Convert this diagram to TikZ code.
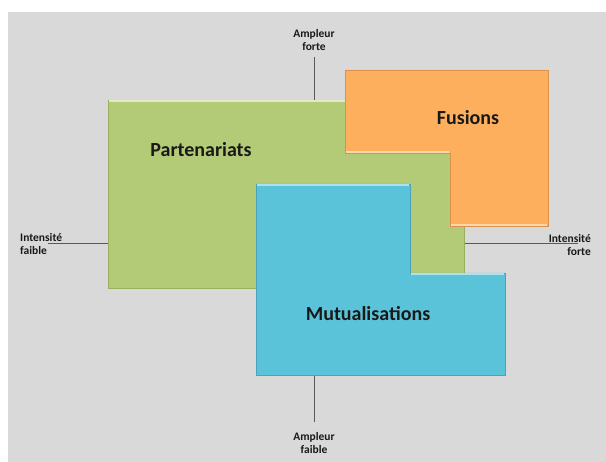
\documentclass[tikz,border=0pt]{standalone}
\usepackage{fontspec}
\setmainfont{Carlito}
\definecolor{bg}{HTML}{D9D9D9}
\definecolor{greenf}{HTML}{B3CB76}
\definecolor{greend}{HTML}{98B05E}
\definecolor{orangef}{HTML}{FDAF5D}
\definecolor{oranged}{HTML}{D99248}
\definecolor{bluef}{HTML}{5BC3D9}
\definecolor{blued}{HTML}{4AA3B8}
\definecolor{axis}{HTML}{595959}
\begin{document}
\begin{tikzpicture}[x=1pt,y=-1pt,
  shapebox/.style={line width=0.8pt, line join=miter},
  axisline/.style={draw=axis, line width=1pt},
  small/.style={font=\bfseries\fontsize{11.5}{13.5}\selectfont, text=black!90, align=center, inner sep=0pt},
  big/.style={font=\bfseries\fontsize{20}{24}\selectfont, text=black!90, inner sep=0pt}]
\useasboundingbox (0,0) rectangle (606,462);
\fill[white] (0,0) rectangle (606,462);
\fill[bg] (8,12) rectangle (606,462);
% axes
\coordinate (vt) at (314,57);
\coordinate (vb) at (314,422);
\coordinate (hl) at (48,244);
\coordinate (hr) at (578,244);
\draw[axisline] (vt) -- (vb);
\draw[axisline] (hl) -- (hr);
% green
\fill[greenf, draw=greend, shapebox] (108,100) rectangle (464,288);
\draw[white!60!greenf, line width=1.2pt] (109,101) -- (463,101);
% orange
\fill[orangef, draw=oranged, shapebox] (345,70) -- (548,70) -- (548,226) -- (450,226) -- (450,153) -- (345,153) -- cycle;
\draw[white!50!orangef, line width=1.2pt] (346,152) -- (449,152);
\draw[white!50!orangef, line width=1.2pt] (451,225) -- (547,225);
% blue
\fill[bluef, draw=blued, shapebox] (256,184) -- (410,184) -- (410,273) -- (505,273) -- (505,375) -- (256,375) -- cycle;
\draw[white!50!bluef, line width=1.2pt] (257,185) -- (409,185);
\draw[white!50!bluef, line width=1.2pt] (411,274) -- (504,274);
% labels
\node[big] (part) at (201,150) {Partenariats};
\node[big] (fus) at (468,118) {Fusions};
\node[big] (mut) at (368,314) {Mutualisations};
\node[small] (af) at (314,40) {Ampleur\\forte};
\node[small] (afb) at (314,443) {Ampleur\\faible};
\node[small, align=left, anchor=west] (if) at (20,244) {Intensité\\faible};
\node[small, align=right, anchor=east] (ifo) at (591,245) {Intensité\\forte};
\end{tikzpicture}
\end{document}
